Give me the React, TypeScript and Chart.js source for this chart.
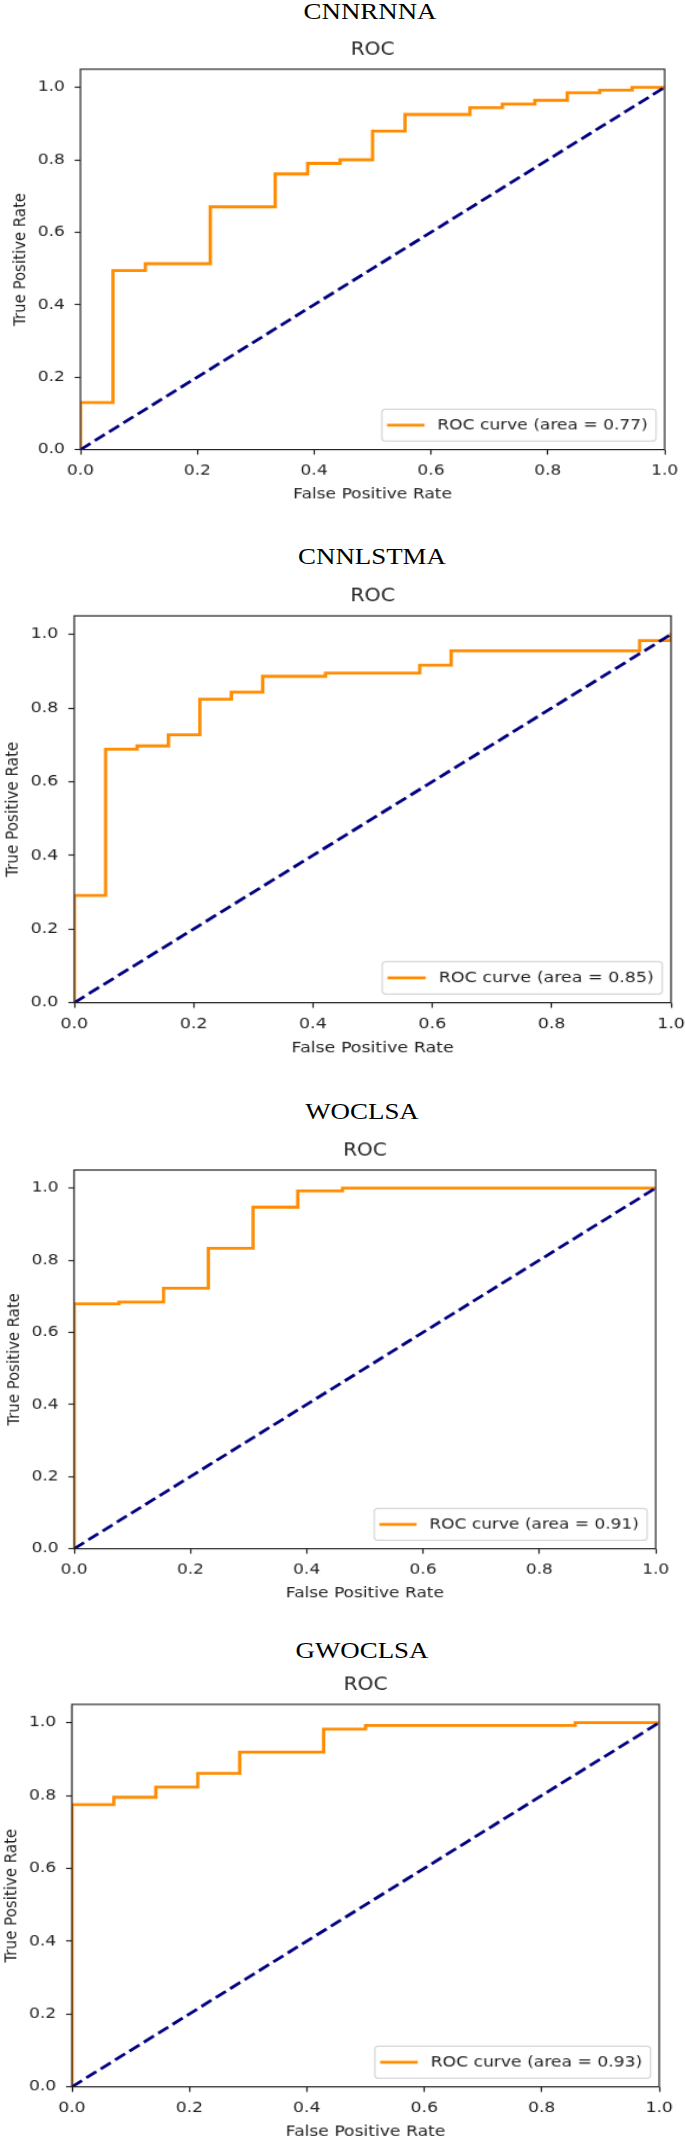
import React, { useEffect, useRef } from "react";
import { Chart, registerables } from "chart.js";

Chart.register(...registerables);

// ---------------- data ----------------
const panelNames = ["CNNRNNA", "CNNLSTMA", "WOCLSA", "GWOCLSA"];
const aucValues = [0.77, 0.85, 0.91, 0.93];

const xTickValues = [0, 0.2, 0.4, 0.6, 0.8, 1.0];
const yTickValues = [0, 0.2, 0.4, 0.6, 0.8, 1.0];

const cnnrnnaFpr = [0, 0, 0.0556, 0.0556, 0.1111, 0.1111, 0.2222, 0.2222, 0.3333, 0.3333, 0.3889, 0.3889, 0.4444, 0.4444, 0.5, 0.5, 0.5556, 0.5556, 0.6667, 0.6667, 0.7222, 0.7222, 0.7778, 0.7778, 0.8333, 0.8333, 0.8889, 0.8889, 0.9444, 0.9444, 1.0];
const cnnrnnaTpr = [0, 0.13, 0.13, 0.494, 0.494, 0.513, 0.513, 0.67, 0.67, 0.761, 0.761, 0.79, 0.79, 0.8, 0.8, 0.879, 0.879, 0.925, 0.925, 0.944, 0.944, 0.954, 0.954, 0.964, 0.964, 0.985, 0.985, 0.992, 0.992, 1.0, 1.0];

const cnnlstmaFpr = [0, 0, 0.0526, 0.0526, 0.1053, 0.1053, 0.1579, 0.1579, 0.2105, 0.2105, 0.2632, 0.2632, 0.3158, 0.3158, 0.4211, 0.4211, 0.5789, 0.5789, 0.6316, 0.6316, 0.9474, 0.9474, 1.0, 1.0];
const cnnlstmaTpr = [0, 0.291, 0.291, 0.688, 0.688, 0.697, 0.697, 0.727, 0.727, 0.824, 0.824, 0.843, 0.843, 0.886, 0.886, 0.895, 0.895, 0.916, 0.916, 0.955, 0.955, 0.983, 0.983, 1.0];

const woclsaFpr = [0, 0, 0.0769, 0.0769, 0.1538, 0.1538, 0.2308, 0.2308, 0.3077, 0.3077, 0.3846, 0.3846, 0.4615, 0.4615, 1.0];
const woclsaTpr = [0, 0.679, 0.679, 0.684, 0.684, 0.722, 0.722, 0.833, 0.833, 0.947, 0.947, 0.992, 0.992, 1.0, 1.0];

const gwoclsaFpr = [0, 0, 0.0714, 0.0714, 0.1429, 0.1429, 0.2143, 0.2143, 0.2857, 0.2857, 0.4286, 0.4286, 0.5, 0.5, 0.8571, 0.8571, 1.0];
const gwoclsaTpr = [0, 0.775, 0.775, 0.795, 0.795, 0.823, 0.823, 0.861, 0.861, 0.919, 0.919, 0.982, 0.982, 0.992, 0.992, 1.0, 1.0];

const chanceFpr = [0, 1];
const chanceTpr = [0, 1];

const fprSeries = [cnnrnnaFpr, cnnlstmaFpr, woclsaFpr, gwoclsaFpr];
const tprSeries = [cnnrnnaTpr, cnnlstmaTpr, woclsaTpr, gwoclsaTpr];

// ---------------- layout / style ----------------
// screen-space boxes of each plot area and heading centre
const panelBoxes = [
  { L: 80, R: 664.2, T: 68.8, B: 449.2, hx: 370, hy: 11.3 },
  { L: 73.8, R: 670.6, T: 616.2, B: 1003, hx: 372, hy: 556 },
  { L: 73.6, R: 655.2, T: 1169.7, B: 1548.4, hx: 362, hy: 1111 },
  { L: 72, R: 659.3, T: 1704.6, B: 2087, hx: 362, hy: 1650 },
];

const VL = 70;
const VT = 40;
const VW = 496;
const VH = 369.6;
const CW = 586;
const CH = 470;

const FONT = '"DejaVu Sans", Verdana, sans-serif';
const FS = 14.5;
const TEXT = "#222222";
const ORANGE = "#ff8c00";
const NAVY = "#000080";

const framePlugin = {
  id: "mplFrame",
  afterDatasetsDraw(chart: any) {
    const { ctx, chartArea } = chart;
    ctx.save();
    ctx.strokeStyle = TEXT;
    ctx.lineWidth = 1.2;
    ctx.strokeRect(chartArea.left, chartArea.top, chartArea.right - chartArea.left, chartArea.bottom - chartArea.top);
    ctx.restore();
  },
};

const legendPlugin = {
  id: "mplLegend",
  afterDraw(chart: any) {
    const ds = chart.data.datasets[1];
    const { ctx, chartArea } = chart;
    ctx.save();
    ctx.font = `${FS}px ${FONT}`;
    const tw = ctx.measureText(ds.label).width;
    const w = 47 + tw + 7;
    const h = 31;
    const x = chartArea.right - 7.3 - w;
    const y = chartArea.bottom - 8.3 - h;
    ctx.beginPath();
    ctx.roundRect(x, y, w, h, 3);
    ctx.fillStyle = "rgba(255,255,255,0.8)";
    ctx.fill();
    ctx.strokeStyle = "rgba(204,204,204,0.8)";
    ctx.lineWidth = 1.2;
    ctx.stroke();
    ctx.beginPath();
    ctx.moveTo(x + 5.8, y + h / 2);
    ctx.lineTo(x + 34.8, y + h / 2);
    ctx.strokeStyle = ds.borderColor;
    ctx.lineWidth = 2.8;
    ctx.lineCap = "square";
    ctx.stroke();
    ctx.fillStyle = TEXT;
    ctx.textBaseline = "middle";
    ctx.textAlign = "left";
    ctx.fillText(ds.label, x + 47, y + h / 2 + 0.5);
    ctx.restore();
  },
};

function axisCommon(tickValues: number[]) {
  return {
    type: "linear",
    afterBuildTicks: (s: any) => {
      s.ticks = tickValues.map((v) => ({ value: v }));
    },
    ticks: {
      color: TEXT,
      font: { family: FONT, size: FS },
      callback: (v: any) => Number(v).toFixed(1),
      maxRotation: 0,
      autoSkip: false,
    },
    grid: {
      drawOnChartArea: false,
      drawTicks: true,
      tickLength: 4.9,
      tickWidth: 1.2,
      tickColor: TEXT,
    },
    border: { display: false },
  };
}

function RocPanel({ idx }: { idx: number }) {
  const ref = useRef<HTMLCanvasElement | null>(null);
  const box = panelBoxes[idx];
  const sx = (box.R - box.L) / VW;
  const sy = (box.B - box.T) / VH;
  const left = box.L - VL * sx;
  const top = box.T - VT * sy;

  useEffect(() => {
    const fpr = fprSeries[idx];
    const tpr = tprSeries[idx];
    const xBase: any = axisCommon(xTickValues);
    const yBase: any = axisCommon(yTickValues);
    const chart = new Chart(ref.current as HTMLCanvasElement, {
      type: "scatter",
      data: {
        datasets: [
          {
            label: "chance",
            data: chanceFpr.map((x, i) => ({ x, y: chanceTpr[i] })),
            showLine: true,
            borderColor: NAVY,
            backgroundColor: NAVY,
            borderWidth: 2.8,
            borderDash: [10.4, 4.5],
            borderCapStyle: "butt",
            pointRadius: 0,
            pointHoverRadius: 0,
            order: 0,
          },
          {
            label: `ROC curve (area = ${aucValues[idx].toFixed(2)})`,
            data: fpr.map((x, i) => ({ x, y: tpr[i] })),
            showLine: true,
            borderColor: ORANGE,
            backgroundColor: ORANGE,
            borderWidth: 2.8,
            borderJoinStyle: "miter",
            borderCapStyle: "square",
            pointRadius: 0,
            pointHoverRadius: 0,
            order: 1,
          },
        ],
      } as any,
      options: {
        animation: false,
        responsive: false,
        events: [],
        layout: { padding: { top: 0, right: CW - VL - VW, bottom: 0, left: 0 } },
        scales: {
          x: {
            ...xBase,
            min: 0,
            max: 1,
            ticks: { ...xBase.ticks, padding: 6.6 },
            title: {
              display: true,
              text: "False Positive Rate",
              color: TEXT,
              font: { family: FONT, size: FS },
              padding: { top: 0, bottom: 7.6 },
            },
            afterFit: (s: any) => {
              s.height = CH - VT - VH;
            },
          },
          y: {
            ...yBase,
            min: 0,
            max: 1.05,
            ticks: { ...yBase.ticks, padding: 8.3 },
            title: {
              display: true,
              text: "True Positive Rate",
              color: TEXT,
              font: { family: FONT, size: FS },
              padding: { top: 10.3, bottom: 0 },
            },
            afterFit: (s: any) => {
              s.width = VL;
            },
          },
        },
        plugins: {
          legend: { display: false },
          tooltip: { enabled: false },
          title: {
            display: true,
            fullSize: false,
            align: "center",
            text: "ROC",
            color: TEXT,
            font: { family: FONT, size: 17, weight: "normal", lineHeight: 1.2 },
            padding: { top: 11.5, bottom: VT - 11.5 - 17 * 1.2 },
          },
        },
      } as any,
      plugins: [framePlugin, legendPlugin],
    });
    return () => chart.destroy();
  }, [idx]);

  return (
    <>
      <div
        style={{
          position: "absolute",
          left,
          top,
          width: CW,
          height: CH,
          transform: `scale(${sx}, ${sy})`,
          transformOrigin: "0 0",
        }}
      >
        <canvas ref={ref} width={CW} height={CH} style={{ width: CW, height: CH, display: "block" }} />
      </div>
      <div
        style={{
          position: "absolute",
          left: box.hx,
          top: box.hy,
          transform: "translate(-50%, -50%) scaleX(1.12)",
          fontFamily: '"Liberation Serif", "Times New Roman", serif',
          fontSize: 24,
          lineHeight: 1,
          whiteSpace: "nowrap",
          color: "#000",
        }}
      >
        {panelNames[idx]}
      </div>
    </>
  );
}

export default function App() {
  return (
    <div
      style={{
        position: "absolute",
        left: 0,
        top: 0,
        width: 685,
        height: 2143,
        overflow: "hidden",
        background: "#fff",
      }}
    >
      {panelNames.map((_, i) => (
        <RocPanel key={i} idx={i} />
      ))}
    </div>
  );
}
